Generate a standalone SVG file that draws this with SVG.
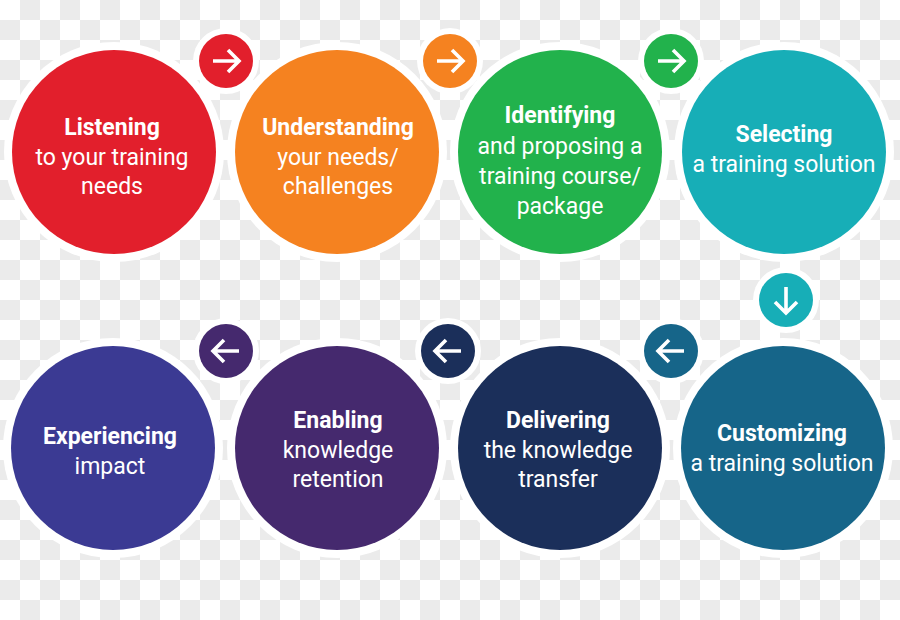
<svg xmlns="http://www.w3.org/2000/svg" width="900" height="620" viewBox="0 0 900 620">
<defs>
<pattern id="chk" x="0" y="0" width="40" height="40" patternUnits="userSpaceOnUse">
<rect width="40" height="40" fill="#ffffff"/>
<rect x="20" y="0" width="20" height="20" fill="#ebebeb"/>
<rect x="0" y="20" width="20" height="20" fill="#ebebeb"/>
</pattern>
<path id="arR" d="M-13,0 H13 M2,-11 L13,0 L2,11"/>
<path id="arL" d="M13,0 H-13 M-2,-11 L-13,0 L-2,11"/>
<path id="arD" d="M0,-13 V13 M-11,2 L0,13 L11,2"/>
</defs>
<style>
.halo{fill:#ffffff}
.t{font-family:Roboto,"Liberation Sans",sans-serif;font-size:23px;fill:#ffffff;text-anchor:middle}
.b{font-weight:bold}
.ar{fill:none;stroke:#ffffff;stroke-width:3.6;stroke-linecap:butt;stroke-linejoin:miter}
</style>
<rect width="900" height="620" fill="url(#chk)"/>
<g id="halos">
<circle class="halo" cx="114" cy="152" r="110"/>
<circle class="halo" cx="337" cy="152" r="110"/>
<circle class="halo" cx="560" cy="152" r="110"/>
<circle class="halo" cx="784" cy="152" r="110"/>
<circle class="halo" cx="113" cy="448" r="110"/>
<circle class="halo" cx="337" cy="448" r="110"/>
<circle class="halo" cx="560" cy="448" r="110"/>
<circle class="halo" cx="783" cy="448" r="110"/>
<circle class="halo" cx="226" cy="61" r="33"/>
<circle class="halo" cx="450" cy="61" r="33"/>
<circle class="halo" cx="671" cy="61" r="33"/>
<circle class="halo" cx="786" cy="300" r="33"/>
<circle class="halo" cx="671" cy="351" r="33"/>
<circle class="halo" cx="448" cy="351" r="33"/>
<circle class="halo" cx="226" cy="351" r="33"/>
</g>
<g id="connectors">
<g transform="translate(226,61)"><circle r="27" fill="#e21f2c"/><use href="#arR" class="ar"/></g>
<g transform="translate(450,61)"><circle r="27" fill="#f58220"/><use href="#arR" class="ar"/></g>
<g transform="translate(671,61)"><circle r="27" fill="#22b24c"/><use href="#arR" class="ar"/></g>
<g transform="translate(786,300)"><circle r="27" fill="#17aeb7"/><use href="#arD" class="ar"/></g>
<g transform="translate(671,351)"><circle r="27" fill="#166589"/><use href="#arL" class="ar"/></g>
<g transform="translate(448,351)"><circle r="27" fill="#1b2f5a"/><use href="#arL" class="ar"/></g>
<g transform="translate(226,351)"><circle r="27" fill="#45296e"/><use href="#arL" class="ar"/></g>
</g>
<g id="n1">
<circle cx="114" cy="152" r="102" fill="#e21f2c"/>
<text class="t b" x="112" y="135">Listening</text>
<text class="t" x="112" y="165">to your training</text>
<text class="t" x="112" y="194">needs</text>
</g>
<g id="n2">
<circle cx="337" cy="152" r="102" fill="#f58220"/>
<text class="t b" x="338" y="135">Understanding</text>
<text class="t" x="338" y="165">your needs/</text>
<text class="t" x="338" y="194">challenges</text>
</g>
<g id="n3">
<circle cx="560" cy="152" r="102" fill="#22b24c"/>
<text class="t b" x="560" y="123">Identifying</text>
<text class="t" x="560" y="154">and proposing a</text>
<text class="t" x="560" y="184">training course/</text>
<text class="t" x="560" y="214">package</text>
</g>
<g id="n4">
<circle cx="784" cy="152" r="102" fill="#17aeb7"/>
<text class="t b" x="784" y="142">Selecting</text>
<text class="t" x="784" y="172">a training solution</text>
</g>
<g id="n5">
<circle cx="783" cy="448" r="102" fill="#166589"/>
<text class="t b" x="782" y="441">Customizing</text>
<text class="t" x="782" y="471">a training solution</text>
</g>
<g id="n6">
<circle cx="560" cy="448" r="102" fill="#1b2f5a"/>
<text class="t b" x="558" y="428">Delivering</text>
<text class="t" x="558" y="458">the knowledge</text>
<text class="t" x="558" y="487">transfer</text>
</g>
<g id="n7">
<circle cx="337" cy="448" r="102" fill="#45296e"/>
<text class="t b" x="338" y="428">Enabling</text>
<text class="t" x="338" y="458">knowledge</text>
<text class="t" x="338" y="487">retention</text>
</g>
<g id="n8">
<circle cx="113" cy="448" r="102" fill="#3b3a93"/>
<text class="t b" x="110" y="444">Experiencing</text>
<text class="t" x="110" y="474">impact</text>
</g>
</svg>
